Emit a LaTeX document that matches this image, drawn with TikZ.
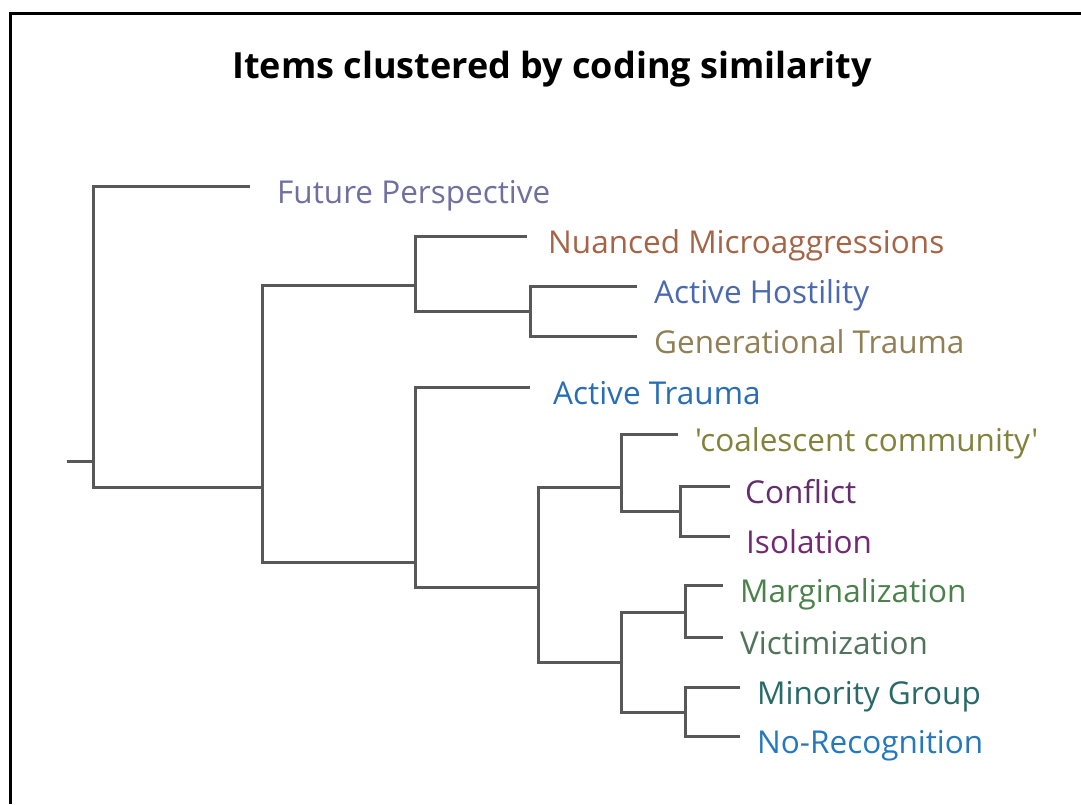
\documentclass[tikz,border=0pt]{standalone}
\usepackage{fontspec}
\setmainfont{Open Sans}
% same face without the TeX quote mapping, for straight apostrophes
\newfontfamily\straightquotes{Open Sans}[Ligatures=ResetAll]
\definecolor{treegray}{RGB}{88,88,88}
\definecolor{fpcol}{RGB}{112,112,160}
\definecolor{nmcol}{RGB}{165,100,70}
\definecolor{ahcol}{RGB}{75,105,175}
\definecolor{gtcol}{RGB}{145,128,85}
\definecolor{atcol}{RGB}{40,110,180}
\definecolor{cccol}{RGB}{130,130,60}
\definecolor{cocol}{RGB}{100,45,110}
\definecolor{iscol}{RGB}{115,40,115}
\definecolor{macol}{RGB}{75,130,75}
\definecolor{vicol}{RGB}{80,115,90}
\definecolor{mgcol}{RGB}{40,105,105}
\definecolor{nrcol}{RGB}{35,120,190}
\begin{document}
\begin{tikzpicture}[x=1pt,y=-1pt,
  branch/.style={draw=treegray,line width=3pt,line join=miter},
  leaf/.style={anchor=base west,inner sep=0pt,font=\fontsize{31.5}{38}\selectfont},
  heading/.style={anchor=base,inner sep=0pt,font=\bfseries\fontsize{36}{43}\selectfont}]
% canvas and frame
\fill[white] (0,0) rectangle (1081,804);
\useasboundingbox (0,0) rectangle (1081,804);
\draw[black,line width=3pt] (10,804) -- (10,13) -- (1081,13);

\node[heading] (title) at (552,78) {Items clustered by coding similarity};

% inner merge points (x of the vertical bar, y where the parent joins)
\coordinate (stub) at (67,461);
\coordinate (r0) at (93,461);
\coordinate (n1) at (262,487);
\coordinate (n2) at (415,285);
\coordinate (n3) at (530,311);
\coordinate (n4) at (415,562);
\coordinate (n5) at (538,587);
\coordinate (n6) at (621,487);
\coordinate (n7) at (680,511);
\coordinate (n8) at (621,662);
\coordinate (n9) at (685,612);
\coordinate (n10) at (685,712);

% leaf line ends
\coordinate (fpE) at (250,186);
\coordinate (nmE) at (527,236);
\coordinate (ahE) at (637,286);
\coordinate (gtE) at (637,336);
\coordinate (atE) at (530,387);
\coordinate (ccE) at (678,434);
\coordinate (coE) at (730,486);
\coordinate (isE) at (730,536);
\coordinate (maE) at (723,585);
\coordinate (viE) at (723,637);
\coordinate (mgE) at (740,687);
\coordinate (nrE) at (740,736);

% leaf labels
\node[leaf,text=fpcol] (fp) at (277,203) {Future Perspective};
\node[leaf,text=nmcol] (nm) at (548,253) {Nuanced Microaggressions};
\node[leaf,text=ahcol] (ah) at (654,303) {Active Hostility};
\node[leaf,text=gtcol] (gt) at (654,353) {Generational Trauma};
\node[leaf,text=atcol] (at) at (553,404) {Active Trauma};
\node[leaf,text=cccol] (cc) at (695,451) {\straightquotes 'coalescent community'};
\node[leaf,text=cocol] (co) at (745,503) {Conflict};
\node[leaf,text=iscol] (is) at (746,553) {Isolation};
\node[leaf,text=macol] (ma) at (740,602) {Marginalization};
\node[leaf,text=vicol] (vi) at (740,654) {Victimization};
\node[leaf,text=mgcol] (mg) at (757,704) {Minority Group};
\node[leaf,text=nrcol] (nr) at (757,753) {No-Recognition};

% dendrogram branches
\draw[branch] (stub) -- (r0);
\draw[branch] (fpE) -| (r0) |- (n1);
\draw[branch] (n2) -| (n1) |- (n4);
\draw[branch] (nmE) -| (n2) |- (n3);
\draw[branch] (ahE) -| (n3) |- (gtE);
\draw[branch] (atE) -| (n4) |- (n5);
\draw[branch] (n6) -| (n5) |- (n8);
\draw[branch] (ccE) -| (n6) |- (n7);
\draw[branch] (coE) -| (n7) |- (isE);
\draw[branch] (n9) -| (n8) |- (n10);
\draw[branch] (maE) -| (n9) |- (viE);
\draw[branch] (mgE) -| (n10) |- (nrE);
\end{tikzpicture}
\end{document}
